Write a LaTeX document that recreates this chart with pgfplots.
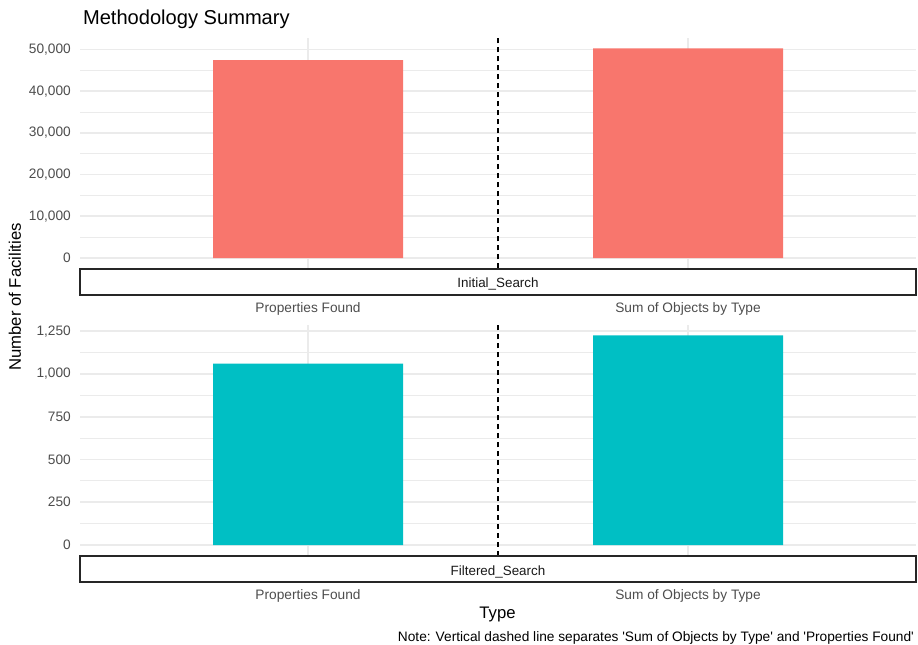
\documentclass[border=0pt]{standalone}
\usepackage{fontspec}
\setmainfont{Liberation Sans}
\usepackage{pgfplots}
\pgfplotsset{compat=1.18}
\definecolor{redbar}{HTML}{F8766D}
\definecolor{tealbar}{HTML}{00BFC4}
\definecolor{gridc}{HTML}{EBEBEB}
\definecolor{tickc}{HTML}{4D4D4D}
\pgfplotsset{
  facet/.style={
    scale only axis, width=836pt, height=230.5pt, anchor=south west,
    xmin=0.4, xmax=2.6, xtick={1,2},
    xticklabels={Properties Found, Sum of Objects by Type},
    axis line style={draw=none}, major tick length=0pt, minor tick length=0pt,
    xmajorgrids, ymajorgrids, yminorgrids, minor y tick num=1,
    major grid style={gridc, line width=1.7pt},
    minor grid style={gridc, line width=0.9pt},
    tick label style={font=\fontsize{13.7}{16}\selectfont, text=tickc, inner sep=0pt},
    yticklabel style={anchor=east, xshift=-9pt},
    xticklabel style={anchor=north, yshift=-34pt},
    scaled y ticks=false,
    /pgf/number format/fixed,
    /pgf/number format/1000 sep={,},
    /pgf/number format/assume math mode=true,
    clip=false,
  },
}
\tikzset{
  vsep/.style={black, line width=1.6pt, dash pattern=on 5pt off 4pt},
  strip/.style={black!85, line width=1.1pt, fill=white},
}
\newcommand{\stripfont}{\fontsize{13.4}{16}\selectfont}
\newcommand{\q}{\textquotesingle}
\begin{document}
\begin{tikzpicture}
\path[use as bounding box] (0pt,0pt) rectangle (918pt,645pt);

% top panel: Initial_Search
\begin{axis}[facet, at={(80pt,376.5pt)},
  ymin=-2512.5, ymax=52762.5, ytick={0,10000,...,50000}]
\addplot[ybar, bar width=0.5, fill=redbar, draw=none] coordinates {(1,47450) (2,50250)};
\addplot[vsep] coordinates {(1.5,-2512.5) (1.5,52762.5)};
\draw[strip] ([yshift=-0.5pt]rel axis cs:0,0) rectangle ([yshift=-26.5pt]rel axis cs:1,0);
\node[anchor=base, font=\stripfont, text=black!90] at ([yshift=-19.5pt]rel axis cs:0.5,0) {Initial\_Search};
\end{axis}

% bottom panel: Filtered_Search
\begin{axis}[facet, at={(80pt,89.5pt)},
  ymin=-61.25, ymax=1286.25, ytick={0,250,...,1250}]
\addplot[ybar, bar width=0.5, fill=tealbar, draw=none] coordinates {(1,1060) (2,1225)};
\addplot[vsep] coordinates {(1.5,-61.25) (1.5,1286.25)};
\draw[strip] ([yshift=-0.5pt]rel axis cs:0,0) rectangle ([yshift=-26.5pt]rel axis cs:1,0);
\node[anchor=base, font=\stripfont, text=black!90] at ([yshift=-19.5pt]rel axis cs:0.5,0) {Filtered\_Search};
\end{axis}

\node[anchor=base west, font=\fontsize{20.1}{24}\selectfont] at (79.5pt,620pt) {Methodology Summary};
\node[rotate=90, font=\fontsize{16.7}{20}\selectfont] at (15pt,348pt) {Number of Facilities};
\node[anchor=base, font=\fontsize{16.7}{20}\selectfont] at (497.5pt,26pt) {Type};
\node[anchor=base east, font=\fontsize{13.7}{16}\selectfont, inner sep=0pt] at (914pt,3.5pt) {Note: Vertical dashed line separates \q Sum of Objects by Type\q{} and \q Properties Found\q};
\end{tikzpicture}
\end{document}
